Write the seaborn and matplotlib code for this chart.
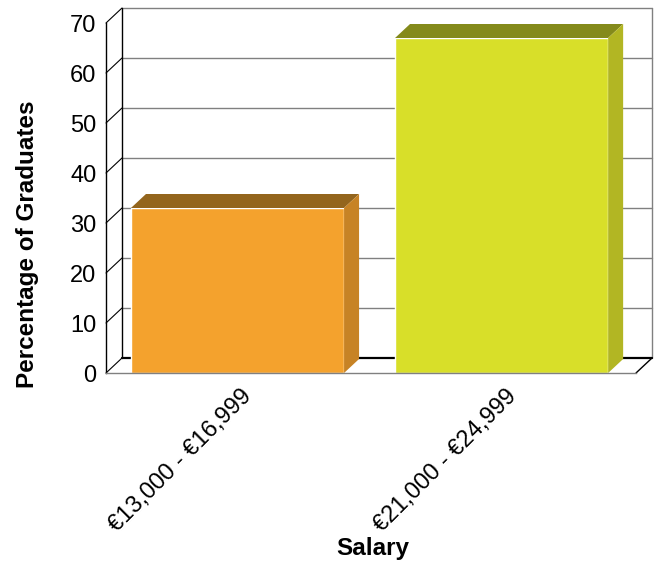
import matplotlib
matplotlib.use("Agg")
import matplotlib.pyplot as plt
import matplotlib.transforms as mtransforms
from matplotlib.patches import Polygon
import pandas as pd
import seaborn as sns

# donnees
salary = ["€13,000 - €16,999", "€21,000 - €24,999"]
pct = [33, 67]
front_colors = ["#F4A22D", "#D8DF29"]
top_colors = ["#93651D", "#848A1B"]
side_colors = ["#C78325", "#B2B623"]
yticks = [0, 10, 20, 30, 40, 50, 60, 70]

sns.set_style("white")
plt.rcParams["font.family"] = ["Liberation Sans", "DejaVu Sans"]
plt.rcParams["text.color"] = "black"

fig = plt.figure(figsize=(6.57, 5.64), dpi=100)
ax = fig.add_axes([106 / 657, 1 - 373 / 564, 530 / 657, 350 / 564])

df = pd.DataFrame({"Salary": salary, "pct": pct})
sns.barplot(data=df, x="Salary", y="pct", hue="Salary", palette=front_colors,
            width=0.807, saturation=1, legend=False, ax=ax, zorder=3)

xl, xr = -0.498, 1.509
ax.set_xlim(xl, xr)
ax.set_ylim(0, 70)

# profondeur (pixels -> donnees)
px_x = 530 / (xr - xl)
px_y = 350 / 70
wdx, wdy = 16 / px_x, 15 / px_y
bdx, bdy = 15 / px_x, 14 / px_y

grey = "#808080"
kw = dict(clip_on=False, lw=1)

# mur du fond + grille
for v in yticks[1:]:
    ax.plot([xl + wdx, xr + wdx], [v + wdy, v + wdy], color=grey, zorder=1, **kw)
    ax.plot([xl, xl + wdx], [v, v + wdy], color="black", zorder=1, lw=0.8, clip_on=False)
ax.plot([xl + wdx, xl + wdx], [wdy, 70 + wdy], color="black", zorder=1, **kw)
ax.plot([xr + wdx, xr + wdx], [wdy, 70 + wdy], color=grey, zorder=1, **kw)
# sol
ax.plot([xl + wdx, xr + wdx], [wdy, wdy], color="black", zorder=1, lw=1.6, clip_on=False)
ax.plot([xl, xl + wdx], [0, wdy], color="black", zorder=1, lw=0.8, clip_on=False)
ax.plot([xr, xr + wdx], [0, wdy], color="black", zorder=1, **kw)

# faces 3D des barres
for p, tc, sc in zip(ax.patches, top_colors, side_colors):
    x0 = p.get_x()
    x1 = x0 + p.get_width()
    h = p.get_height()
    top = Polygon([(x0, h), (x1, h), (x1 + bdx, h + bdy), (x0 + bdx, h + bdy)],
                  closed=True, facecolor=tc, edgecolor="none", zorder=3, clip_on=False)
    side = Polygon([(x1, 0), (x1, h), (x1 + bdx, h + bdy), (x1 + bdx, bdy)],
                   closed=True, facecolor=sc, edgecolor="none", zorder=3, clip_on=False)
    ax.add_patch(top)
    ax.add_patch(side)

for s in ["top", "right"]:
    ax.spines[s].set_visible(False)
ax.spines["left"].set_color("black")
ax.spines["left"].set_linewidth(1)
ax.spines["bottom"].set_color(grey)
ax.spines["bottom"].set_linewidth(1)
ax.spines["bottom"].set_zorder(4)

ax.set_yticks(yticks)
ax.tick_params(axis="both", length=0, labelsize=17, labelcolor="black")
ax.tick_params(axis="y", pad=7)
ax.tick_params(axis="x", pad=9)
ax.set_xticks([0, 1])
ax.set_xticklabels(salary, rotation=45, ha="right")
offset = mtransforms.ScaledTranslation(19 / 100, 0, fig.dpi_scale_trans)
for lab in ax.get_xticklabels():
    lab.set_transform(lab.get_transform() + offset)

ax.set_xlabel("")
ax.set_ylabel("")
fig.text(28 / 657, 1 - 244 / 564, "Percentage of Graduates", rotation=90,
         ha="center", va="center", fontsize=17.5, fontweight="bold")
fig.text(373 / 657, 1 - 549 / 564, "Salary", ha="center", va="center",
         fontsize=17.5, fontweight="bold")

fig.savefig("out.png", dpi=100)
